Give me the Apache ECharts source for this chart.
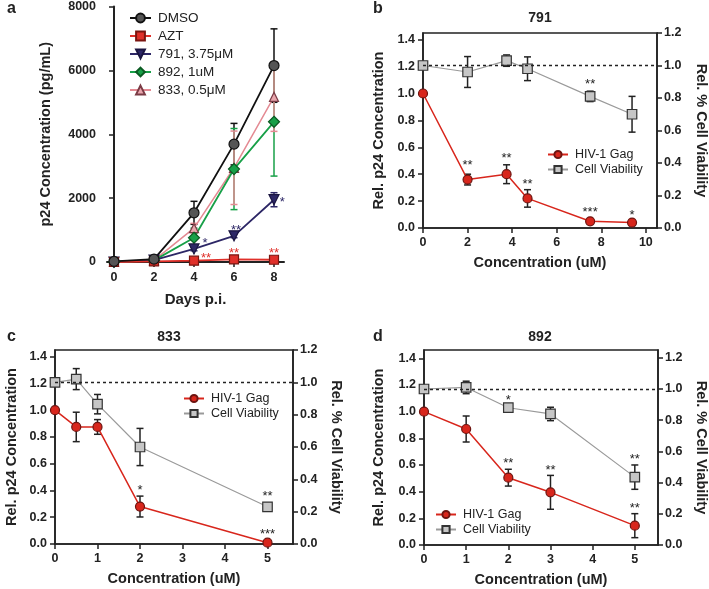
<!DOCTYPE html>
<html><head><meta charset="utf-8">
<script src="https://cdn.jsdelivr.net/npm/echarts@6/dist/echarts.min.js"></script>
<style>html,body{margin:0;padding:0;background:#fff}#c{width:709px;height:589px}</style>
</head><body><div id="c"></div>
<script>
// ---------- Panel a : p24 over days ----------
const daysA = [0, 2, 4, 6, 8];
const dmso = [20, 90, 1540, 3690, 6150];
const dmsoErr = [0, 0, 360, 650, 1150];
const azt = [0, 20, 40, 80, 70];
const aztErr = [0, 0, 0, 0, 0];
const c791 = [0, 60, 410, 820, 1950];
const c791Err = [0, 0, 60, 60, 220];
const c892 = [0, 50, 760, 2910, 4390];
const c892Err = [0, 0, 300, 1270, 1700];
const c833 = [0, 50, 1060, 2950, 5170];
const c833Err = [0, 0, 150, 1150, 1080];
const namesA = ['DMSO', 'AZT', '791, 3.75\u03bcM', '892, 1uM', '833, 0.5\u03bcM'];
const ticksAX = [0, 2, 4, 6, 8];
const ticksAY = [0, 2000, 4000, 6000, 8000];
const starsA = [[4.55, 680, '*', 'navy'], [6.1, 1090, '**', 'navy'], [8.42, 1960, '*', 'navy'],
                [4.6, 210, '**', 'red'], [6, 370, '**', 'red'], [8, 370, '**', 'red']];

// ---------- Panel b : 791 ----------
const concB = [0, 2, 3.75, 4.69, 7.5, 9.38];
const gagB = [1.0, 0.36, 0.40, 0.22, 0.05, 0.04];
const gagBErr = [0, 0.04, 0.07, 0.065, 0.01, 0.01];
const viaB = [1.0, 0.96, 1.03, 0.98, 0.81, 0.70];
const viaBErr = [0, 0.095, 0.035, 0.073, 0.032, 0.11];
const ticksBX = [0, 2, 4, 6, 8, 10];
const starsB = [[2, 0.4875, '**'], [3.75, 0.5375, '**'], [4.69, 0.3475, '**'], [7.5, 0.135, '***'], [9.38, 0.1125, '*'], [7.5, 1.0875, '**']];

// ---------- Panel c : 833 ----------
const concC = [0, 0.5, 1, 2, 5];
const gagC = [1.0, 0.875, 0.875, 0.28, 0.01];
const gagCErr = [0, 0.11, 0.055, 0.078, 0.005];
const viaC = [1.0, 1.02, 0.865, 0.60, 0.23];
const viaCErr = [0, 0.065, 0.06, 0.115, 0.015];
const ticksCX = [0, 1, 2, 3, 4, 5];
const starsC = [[2, 0.425, '*'], [5, 0.375, '**'], [5, 0.0925, '***']];

// ---------- Panel d : 892 ----------
const concD = [0, 1, 2, 3, 5];
const gagD = [1.0, 0.87, 0.505, 0.395, 0.145];
const gagDErr = [0, 0.0975, 0.063, 0.127, 0.09];
const viaD = [1.0, 1.01, 0.88, 0.84, 0.435];
const viaDErr = [0, 0.04, 0.01, 0.043, 0.078];
const ticksDX = [0, 1, 2, 3, 4, 5];
const starsD = [[2, 1.1075, '*'], [2, 0.635, '**'], [3, 0.58, '**'], [5, 0.6675, '**'], [5, 0.30, '**']];

const ticksRelL = [0, 0.2, 0.4, 0.6, 0.8, 1.0, 1.2, 1.4];
const ticksRelR = [0, 0.2, 0.4, 0.6, 0.8, 1.0, 1.2];

const FONT = '"Liberation Sans", Arial, sans-serif';
const INK = '#222';
const COL = {
  navy: '#2d2766', red: '#e0302a', green: '#18a048', pink: '#e48a93',
  gag: '#d8261c', gagBorder: '#6e1410', via: '#9a9a9a', viaFill: '#c6c6c6'
};

const chart = echarts.init(document.getElementById('c'));

function zipXY(xs, ys) { return xs.map((x, i) => [x, ys[i]]); }

function errSeries(xi, yi, xs, ys, es, color, w) {
  return {
    type: 'custom', xAxisIndex: xi, yAxisIndex: yi, silent: true, z: 2,
    data: xs.map((x, i) => [x, ys[i], es[i]]),
    renderItem(params, api) {
      const x = api.value(0), y = api.value(1), e = api.value(2);
      if (!e) return null;
      const t = api.coord([x, y + e]), b = api.coord([x, y - e]);
      const cw = 3.5;
      const st = { stroke: color, lineWidth: w };
      return { type: 'group', children: [
        { type: 'line', shape: { x1: t[0], y1: t[1], x2: b[0], y2: b[1] }, style: st },
        { type: 'line', shape: { x1: t[0] - cw, y1: t[1], x2: t[0] + cw, y2: t[1] }, style: st },
        { type: 'line', shape: { x1: b[0] - cw, y1: b[1], x2: b[0] + cw, y2: b[1] }, style: st }
      ]};
    }
  };
}

function starSeries(xi, yi, stars, size) {
  return {
    type: 'custom', xAxisIndex: xi, yAxisIndex: yi, silent: true, z: 6,
    data: stars.map(s => [s[0], s[1]]),
    renderItem(params, api) {
      const s = stars[params.dataIndex];
      const p = api.coord([api.value(0), api.value(1)]);
      const fill = s[3] ? COL[s[3]] : INK;
      return { type: 'text', x: p[0], y: p[1] + 3,
        style: { text: s[2], fill: fill, font: size + 'px ' + FONT,
          align: 'center', verticalAlign: 'middle', textAlign: 'center', textVerticalAlign: 'middle' } };
    }
  };
}

function lineSeries(name, xi, yi, data, o) {
  return {
    type: 'line', name: name, xAxisIndex: xi, yAxisIndex: yi, data: data, clip: false, z: 4,
    symbol: o.symbol, symbolSize: o.size, symbolRotate: o.rotate || 0, showSymbol: true,
    lineStyle: { color: o.line, width: o.lw },
    itemStyle: { color: o.fill, borderColor: o.border, borderWidth: 1.2 },
    emphasis: { disabled: true },
    markLine: o.markLine
  };
}

const axisCommon = (ticks, digits) => ({
  axisLine: { onZero: false, lineStyle: { color: INK, width: 1.6 } },
  axisTick: { show: true, length: 5, inside: false, lineStyle: { color: INK, width: 1.5 }, customValues: ticks },
  axisLabel: { color: INK, fontWeight: 'bold', fontSize: 12.5, fontFamily: FONT, margin: 8, customValues: ticks,
    formatter: v => digits ? v.toFixed(digits) : String(v) },
  splitLine: { show: false },
  nameTextStyle: { color: INK, fontWeight: 'bold', fontSize: 14.5, fontFamily: FONT }
});

function relX(grid, max, ticks, gap) {
  return Object.assign({ type: 'value', gridIndex: grid, min: 0, max: max, name: 'Concentration (uM)',
    nameLocation: 'middle', nameGap: gap }, axisCommon(ticks, 0));
}
function relYL(grid, max, gap) {
  return Object.assign({ type: 'value', gridIndex: grid, min: 0, max: max, position: 'left',
    name: 'Rel. p24 Concentration', nameLocation: 'middle', nameGap: gap }, axisCommon(ticksRelL, 1));
}
function relYR(grid, max, gap) {
  const a = Object.assign({ type: 'value', gridIndex: grid, min: 0, max: max, position: 'right',
    name: 'Rel. % Cell Viability', nameLocation: 'middle', nameGap: gap, nameRotate: -90 }, axisCommon(ticksRelR, 1));
  a.axisLabel.margin = 7;
  return a;
}

const dotted = { symbol: 'none', silent: true, label: { show: false }, data: [{ yAxis: 1.0 }],
  lineStyle: { type: [3, 3], color: INK, width: 1.4 } };

const gagStyle = { symbol: 'circle', size: 9, line: COL.gag, lw: 1.5, fill: COL.gag, border: COL.gagBorder };
const viaStyle = (ml) => ({ symbol: 'rect', size: 9.5, line: COL.via, lw: 1.2, fill: COL.viaFill, border: '#333', markLine: ml });

function relPanel(xi, yl, yr, conc, gag, gagE, via, viaE, stars) {
  return [
    errSeries(xi, yl, conc, gag, gagE, INK, 1.5),
    errSeries(xi, yr, conc, via, viaE, INK, 1.5),
    lineSeries('Cell Viability', xi, yr, zipXY(conc, via), viaStyle(dotted)),
    lineSeries('HIV-1 Gag', xi, yl, zipXY(conc, gag), gagStyle),
    starSeries(xi, yl, stars, 13)
  ];
}

const axA_x = Object.assign({ type: 'value', gridIndex: 0, min: -0.35, max: 8.5, name: 'Days p.i.',
  nameLocation: 'middle', nameGap: 30 }, axisCommon(ticksAX, 0));
axA_x.axisLine.onZero = true;
axA_x.axisLabel.margin = 9;
axA_x.nameTextStyle.fontSize = 15;
const axA_y = Object.assign({ type: 'value', gridIndex: 0, min: 0, max: 8000, name: 'p24 Concentration (pg/mL)',
  nameLocation: 'middle', nameGap: 54 }, axisCommon(ticksAY, 0));
axA_y.axisLine.onZero = true;
axA_y.axisLine.lineStyle.width = 2;
axA_x.axisLine.lineStyle.width = 2;
axA_y.axisLabel.margin = 11;

const legendText = (fs) => ({ color: INK, fontSize: fs, fontFamily: FONT, padding: [0, 0, 0, 2] });

const option = {
  animation: false,
  backgroundColor: '#fff',
  textStyle: { fontFamily: FONT },
  grid: [
    { left: 107, top: 5, width: 177, height: 257 },
    { left: 423, top: 33, width: 235, height: 195, show: true, borderColor: INK, borderWidth: 1.6 },
    { left: 55, top: 350, width: 238, height: 194, show: true, borderColor: INK, borderWidth: 1.6 },
    { left: 424, top: 350, width: 235, height: 195, show: true, borderColor: INK, borderWidth: 1.6 }
  ],
  xAxis: [
    axA_x,
    relX(1, 10.5, ticksBX, 27),
    relX(2, 5.6, ticksCX, 27),
    relX(3, 5.55, ticksDX, 27)
  ],
  yAxis: [
    axA_y,
    relYL(1, 1.45, 37), relYR(1, 1.2, 36),
    relYL(2, 1.45, 36), relYR(2, 1.2, 35),
    relYL(3, 1.4625, 38), relYR(3, 1.25, 35)
  ],
  legend: [
    { data: namesA, orient: 'vertical', left: 129, top: 11, padding: 0, itemGap: 4, itemWidth: 21, itemHeight: 11,
      textStyle: legendText(13.5), selectedMode: false },
    { data: ['HIV-1 Gag', 'Cell Viability'], orient: 'vertical', left: 547, top: 148, padding: 0, itemGap: 2,
      itemWidth: 20, itemHeight: 9, textStyle: legendText(12.5), selectedMode: false },
    { data: ['HIV-1 Gag', 'Cell Viability'], orient: 'vertical', left: 183, top: 392, padding: 0, itemGap: 2,
      itemWidth: 20, itemHeight: 9, textStyle: legendText(12.5), selectedMode: false },
    { data: ['HIV-1 Gag', 'Cell Viability'], orient: 'vertical', left: 435, top: 508, padding: 0, itemGap: 2,
      itemWidth: 20, itemHeight: 9, textStyle: legendText(12.5), selectedMode: false }
  ],
  graphic: [
    { type: 'text', x: 7, y: 9, style: { text: 'a', font: 'bold 16px ' + FONT, fill: INK, verticalAlign: 'middle' } },
    { type: 'text', x: 373, y: 9, style: { text: 'b', font: 'bold 16px ' + FONT, fill: INK, verticalAlign: 'middle' } },
    { type: 'text', x: 7, y: 337, style: { text: 'c', font: 'bold 16px ' + FONT, fill: INK, verticalAlign: 'middle' } },
    { type: 'text', x: 373, y: 337, style: { text: 'd', font: 'bold 16px ' + FONT, fill: INK, verticalAlign: 'middle' } },
    { type: 'text', x: 540, y: 18, style: { text: '791', font: 'bold 14px ' + FONT, fill: INK, align: 'center', verticalAlign: 'middle' } },
    { type: 'text', x: 169, y: 337, style: { text: '833', font: 'bold 14px ' + FONT, fill: INK, align: 'center', verticalAlign: 'middle' } },
    { type: 'text', x: 540, y: 337, style: { text: '892', font: 'bold 14px ' + FONT, fill: INK, align: 'center', verticalAlign: 'middle' } }
  ],
  series: [
    errSeries(0, 0, daysA, dmso, dmsoErr, '#111', 1.5),
    errSeries(0, 0, daysA, c892, c892Err, COL.green, 1.5),
    errSeries(0, 0, daysA, c833, c833Err, COL.pink, 1.5),
    errSeries(0, 0, daysA, c791, c791Err, COL.navy, 1.5),
    errSeries(0, 0, daysA, azt, aztErr, COL.red, 1.5),
    lineSeries(namesA[4], 0, 0, zipXY(daysA, c833), { symbol: 'triangle', size: 9, line: COL.pink, lw: 1.5, fill: '#e9a6ad', border: '#7a3b45' }),
    lineSeries(namesA[3], 0, 0, zipXY(daysA, c892), { symbol: 'diamond', size: 11, line: COL.green, lw: 1.8, fill: COL.green, border: '#0b5a22' }),
    lineSeries(namesA[2], 0, 0, zipXY(daysA, c791), { symbol: 'triangle', rotate: 180, size: 10, line: COL.navy, lw: 1.8, fill: COL.navy, border: '#1a1540' }),
    lineSeries(namesA[1], 0, 0, zipXY(daysA, azt), { symbol: 'rect', size: 9, line: COL.red, lw: 1.8, fill: COL.red, border: '#7a1510' }),
    lineSeries(namesA[0], 0, 0, zipXY(daysA, dmso), { symbol: 'circle', size: 10, line: '#111', lw: 1.8, fill: '#555', border: '#111' }),
    starSeries(0, 0, starsA, 13),
    ...relPanel(1, 1, 2, concB, gagB, gagBErr, viaB, viaBErr, starsB),
    ...relPanel(2, 3, 4, concC, gagC, gagCErr, viaC, viaCErr, starsC),
    ...relPanel(3, 5, 6, concD, gagD, gagDErr, viaD, viaDErr, starsD)
  ]
};
chart.setOption(option);
</script></body></html>
